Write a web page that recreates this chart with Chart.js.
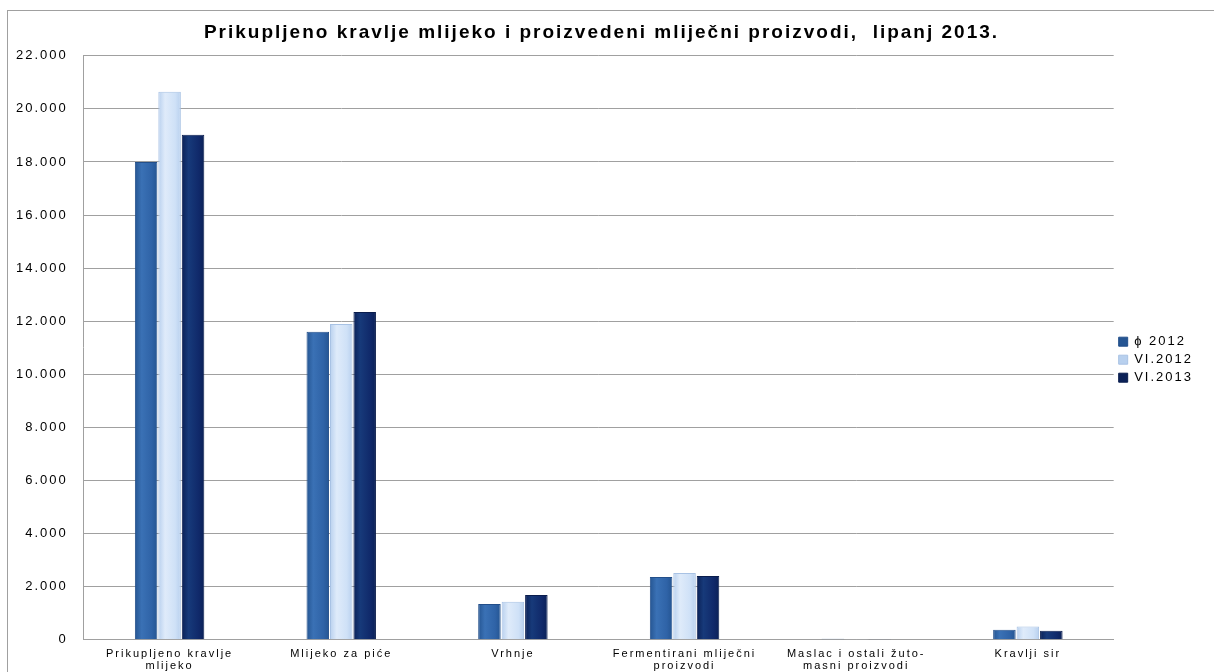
<!DOCTYPE html>
<html>
<head>
<meta charset="utf-8">
<script src="https://cdn.jsdelivr.net/npm/chart.js@4.4.0/dist/chart.umd.min.js"></script>
<style>
html,body{margin:0;padding:0;background:#fff;}
#wrap{position:relative;width:1214px;height:672px;}
</style>
</head>
<body>
<div id="wrap"><canvas id="c" width="1214" height="672"></canvas></div>
<script>
const categories = [
  ["Prikupljeno kravlje", "mlijeko"],
  ["Mlijeko za piće"],
  ["Vrhnje"],
  ["Fermentirani mliječni", "proizvodi"],
  ["Maslac i ostali žuto-", "masni proizvodi"],
  ["Kravlji sir"]
];
const seriesNames = ["ϕ 2012", "VI.2012", "VI.2013"];
const avg2012 = [18000, 11600, 1350, 2370, 40, 375];
const june2012 = [20650, 11900, 1430, 2520, 12, 500];
const june2013 = [19030, 12350, 1690, 2400, 12, 340];
const yTicks = [0, 2000, 4000, 6000, 8000, 10000, 12000, 14000, 16000, 18000, 20000, 22000];

const FONT = "'Liberation Sans', Arial, sans-serif";

const palettes = [
  {edge: '#255592', mid: '#3a71b5', solid: '#2f63a7', border: '#234f8a'},
  {edge: '#b8d0ee', mid: '#dfebfa', solid: '#cfe1f7', border: '#a8c2e4'},
  {edge: '#0b2157', mid: '#173a7a', solid: '#10296a', border: '#0a1d4d'}
];

function barFill(idx) {
  return function(ctx) {
    const p = palettes[idx];
    const el = ctx.element;
    if (!el || el.x == null || el.width == null || !isFinite(el.x)) return p.solid;
    const c = ctx.chart.ctx;
    const g = c.createLinearGradient(el.x - el.width / 2, 0, el.x + el.width / 2, 0);
    g.addColorStop(0, p.edge);
    g.addColorStop(0.3, p.mid);
    g.addColorStop(0.75, p.solid);
    g.addColorStop(1, p.edge);
    return g;
  };
}

const SPACING = '2px';
const frame = {
  id: 'frame',
  beforeUpdate(chart) { chart.ctx.letterSpacing = SPACING; },
  beforeLayout(chart) { chart.ctx.letterSpacing = SPACING; },
  beforeDraw(chart) {
    const c = chart.ctx;
    c.letterSpacing = SPACING;
    c.save();
    c.fillStyle = '#fff';
    c.fillRect(0, 0, chart.width, chart.height);
    c.strokeStyle = '#a0a0a0';
    c.lineWidth = 1;
    c.strokeRect(7.5, 10.5, chart.width + 20, chart.height + 20);
    c.restore();
  }
};

const fmt = v => v === 0 ? '0' : Number(v).toLocaleString('de-DE');

const chart = new Chart(document.getElementById('c'), {
  type: 'bar',
  data: {
    labels: categories,
    datasets: [
      {label: seriesNames[0], data: avg2012, backgroundColor: barFill(0), borderColor: palettes[0].border, borderWidth: 1},
      {label: seriesNames[1], data: june2012, backgroundColor: barFill(1), borderColor: palettes[1].border, borderWidth: 1},
      {label: seriesNames[2], data: june2013, backgroundColor: barFill(2), borderColor: palettes[2].border, borderWidth: 1}
    ]
  },
  options: {
    responsive: false,
    animation: false,
    devicePixelRatio: 1,
    datasets: {bar: {categoryPercentage: 0.41, barPercentage: 0.96}},
    layout: {padding: {left: 0, right: 11, top: 21, bottom: -8}},
    plugins: {
      title: {
        display: true,
        text: 'Prikupljeno kravlje mlijeko i proizvedeni mliječni proizvodi,  lipanj 2013.',
        color: '#000',
        font: {family: FONT, size: 19, weight: 'bold'},
        padding: {top: 0, bottom: 12}
      },
      legend: {
        position: 'right',
        align: 'center',
        title: {display: true, text: ' ', font: {family: FONT, size: 12}, padding: 2},
        labels: {
          boxWidth: 9,
          boxHeight: 9,
          padding: 5,
          color: '#000',
          font: {family: FONT, size: 13}
        }
      },
      tooltip: {enabled: false}
    },
    scales: {
      x: {
        grid: {display: false, drawTicks: false},
        border: {display: true, color: '#a0a0a0'},
        ticks: {
          color: '#000',
          font: {family: FONT, size: 11, lineHeight: 1.1},
          padding: 8,
          maxRotation: 0,
          autoSkip: false
        }
      },
      y: {
        min: 0,
        max: 22000,
        afterBuildTicks: axis => { axis.ticks = yTicks.map(v => ({value: v})); },
        grid: {color: '#a0a0a0', drawTicks: false},
        border: {display: true, color: '#a0a0a0'},
        ticks: {
          color: '#000',
          font: {family: FONT, size: 13},
          padding: 16,
          callback: v => fmt(v)
        }
      }
    }
  },
  plugins: [frame]
});
chart.update();
</script>
</body>
</html>
